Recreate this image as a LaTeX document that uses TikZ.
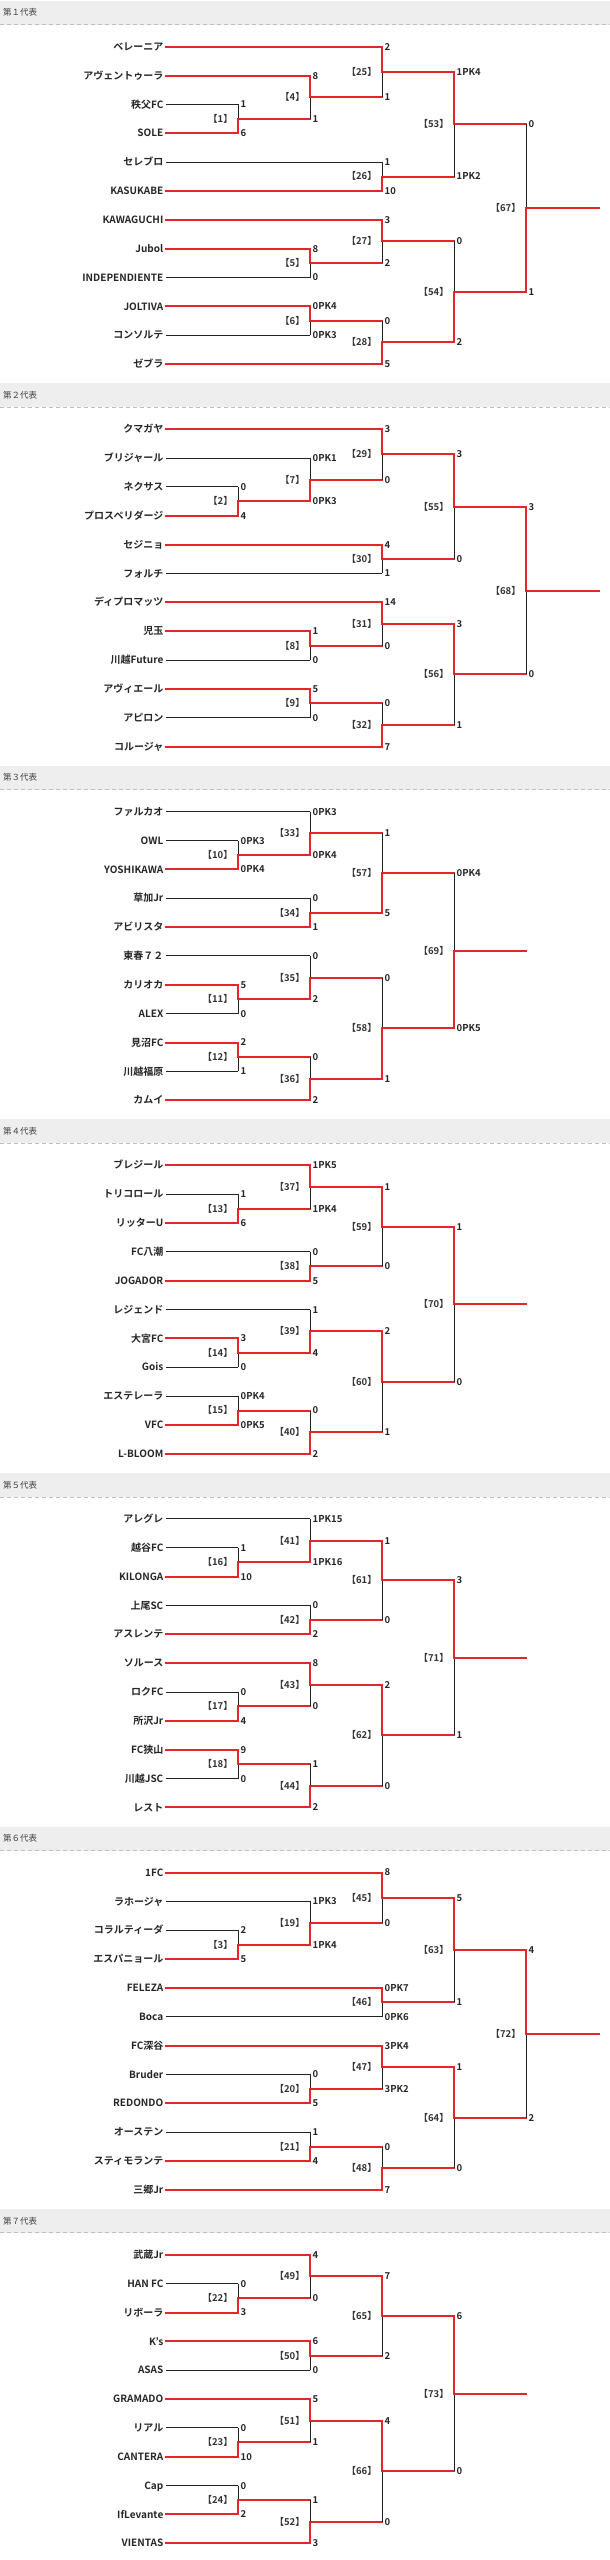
\documentclass[tikz,border=0pt]{standalone}
\usepackage{fontspec}
\setmainfont{Noto Sans CJK JP}[BoldFont={Noto Sans CJK JP Bold}]
\usetikzlibrary{calc}

\definecolor{winred}{HTML}{E4262B}
\definecolor{lossline}{HTML}{222222}
\definecolor{bandgray}{HTML}{EEEEEE}

\def\dY{28.85}
\def\xName{163.5}
\def\xLine{166}

\tikzset{
  won/.style={draw=winred, line width=2pt, line cap=rect},
  lost/.style={draw=lossline, line width=1pt},
  tw upper/.style={won}, tw lower/.style={lost},
  bw upper/.style={lost}, bw lower/.style={won},
  club/.style={anchor=east, inner sep=0pt, text=black!85,
    font=\bfseries\fontsize{10}{10}\selectfont, text height=7.3pt, text depth=0pt},
  score/.style={anchor=west, inner sep=0pt, xshift=2.5pt, text=black!85,
    font=\bfseries\fontsize{9.5}{9.5}\selectfont, text height=6.9pt, text depth=0pt},
  matchno/.style={anchor=east, inner sep=0pt, xshift=-5pt, text=black!80,
    font=\bfseries\fontsize{9.5}{9.5}\selectfont, text height=6.9pt, text depth=0pt},
  band/.style={fill=bandgray},
  bandline/.style={draw=black!25, line width=0.8pt, dash pattern=on 4pt off 3pt},
  heading/.style={anchor=west, inner sep=0pt, text=black!75,
    font=\fontsize{8.5}{8.5}\selectfont},
}

%% team: id, row, name
\newcommand{\club}[3]{%
  \node[club] (#1) at (\xName, #2*\dY) {#3};
  \coordinate (#1l) at (\xLine, #2*\dY);
}
%% game: no, round, upper, lower, upper score, lower score, winner, upper line, lower line
\newcommand{\game}[9]{%
  \coordinate (m#1u) at (#3 -| rd#2);
  \coordinate (m#1d) at (#4 -| rd#2);
  \coordinate (m#1) at ($(m#1u)!.5!(m#1d)$);
  \draw[#8] (#3) -- (m#1u);
  \draw[#9] (#4) -- (m#1d);
  \draw[#7 upper] (m#1u) -- (m#1);
  \draw[#7 lower] (m#1) -- (m#1d);
  \node[score] (m#1us) at (m#1u) {#5};
  \node[score] (m#1ds) at (m#1d) {#6};
  \node[matchno] (m#1n) at (m#1) {【#1】};
}
\newcommand{\final}[2]{%
  \coordinate (e#1) at (m#1 -| rd#2);
  \draw[won] (m#1) -- (e#1);
}
\newcommand{\block}[1]{%
  \fill[band] (0,-46) rectangle (610,-22);
  \draw[bandline] (0,-22) -- (610,-22);
  \node[heading] (h#1) at (3,-34) {第#1代表};
}

\begin{document}
\begin{tikzpicture}[x=1pt, y=-1pt]
  \useasboundingbox (0,0) rectangle (610,2560);

  %% rounds
  \coordinate (rd1) at (238, 0);
  \coordinate (rd2) at (310, 0);
  \coordinate (rd3) at (382, 0);
  \coordinate (rd4) at (454, 0);
  \coordinate (rd5) at (526, 0);
  \coordinate (rd6) at (599, 0);

  %% 1
  \begin{scope}[shift={(0,46.7)}]
    \block{１}
    \club{a0}{0}{ベレーニア}
    \club{a1}{1}{アヴェントゥーラ}
    \club{a2}{2}{秩父FC}
    \club{a3}{3}{SOLE}
    \club{a4}{4}{セレブロ}
    \club{a5}{5}{KASUKABE}
    \club{a6}{6}{KAWAGUCHI}
    \club{a7}{7}{Jubol}
    \club{a8}{8}{INDEPENDIENTE}
    \club{a9}{9}{JOLTIVA}
    \club{a10}{10}{コンソルテ}
    \club{a11}{11}{ゼブラ}
    \game{1}{1}{a2l}{a3l}{1}{6}{bw}{lost}{won}
    \game{4}{2}{a1l}{m1}{8}{1}{tw}{won}{won}
    \game{25}{3}{a0l}{m4}{2}{1}{tw}{won}{won}
    \game{26}{3}{a4l}{a5l}{1}{10}{bw}{lost}{won}
    \game{53}{4}{m25}{m26}{1PK4}{1PK2}{tw}{won}{won}
    \game{5}{2}{a7l}{a8l}{8}{0}{tw}{won}{lost}
    \game{27}{3}{a6l}{m5}{3}{2}{tw}{won}{won}
    \game{6}{2}{a9l}{a10l}{0PK4}{0PK3}{tw}{won}{lost}
    \game{28}{3}{m6}{a11l}{0}{5}{bw}{won}{won}
    \game{54}{4}{m27}{m28}{0}{2}{bw}{won}{won}
    \game{67}{5}{m53}{m54}{0}{1}{bw}{won}{won}
    \final{67}{6}
  \end{scope}

  %% 2
  \begin{scope}[shift={(0,429.2)}]
    \block{２}
    \club{b0}{0}{クマガヤ}
    \club{b1}{1}{ブリジャール}
    \club{b2}{2}{ネクサス}
    \club{b3}{3}{プロスペリダージ}
    \club{b4}{4}{セジニョ}
    \club{b5}{5}{フォルチ}
    \club{b6}{6}{ディプロマッツ}
    \club{b7}{7}{児玉}
    \club{b8}{8}{川越Future}
    \club{b9}{9}{アヴィエール}
    \club{b10}{10}{アピロン}
    \club{b11}{11}{コルージャ}
    \game{2}{1}{b2l}{b3l}{0}{4}{bw}{lost}{won}
    \game{7}{2}{b1l}{m2}{0PK1}{0PK3}{bw}{lost}{won}
    \game{29}{3}{b0l}{m7}{3}{0}{tw}{won}{won}
    \game{30}{3}{b4l}{b5l}{4}{1}{tw}{won}{lost}
    \game{55}{4}{m29}{m30}{3}{0}{tw}{won}{won}
    \game{8}{2}{b7l}{b8l}{1}{0}{tw}{won}{lost}
    \game{31}{3}{b6l}{m8}{14}{0}{tw}{won}{won}
    \game{9}{2}{b9l}{b10l}{5}{0}{tw}{won}{lost}
    \game{32}{3}{m9}{b11l}{0}{7}{bw}{won}{won}
    \game{56}{4}{m31}{m32}{3}{1}{tw}{won}{won}
    \game{68}{5}{m55}{m56}{3}{0}{tw}{won}{won}
    \final{68}{6}
  \end{scope}

  %% 3
  \begin{scope}[shift={(0,811.7)}]
    \block{３}
    \club{c0}{0}{ファルカオ}
    \club{c1}{1}{OWL}
    \club{c2}{2}{YOSHIKAWA}
    \club{c3}{3}{草加Jr}
    \club{c4}{4}{アビリスタ}
    \club{c5}{5}{東春７２}
    \club{c6}{6}{カリオカ}
    \club{c7}{7}{ALEX}
    \club{c8}{8}{見沼FC}
    \club{c9}{9}{川越福原}
    \club{c10}{10}{カムイ}
    \game{10}{1}{c1l}{c2l}{0PK3}{0PK4}{bw}{lost}{won}
    \game{33}{2}{c0l}{m10}{0PK3}{0PK4}{bw}{lost}{won}
    \game{34}{2}{c3l}{c4l}{0}{1}{bw}{lost}{won}
    \game{57}{3}{m33}{m34}{1}{5}{bw}{won}{won}
    \game{11}{1}{c6l}{c7l}{5}{0}{tw}{won}{lost}
    \game{35}{2}{c5l}{m11}{0}{2}{bw}{lost}{won}
    \game{12}{1}{c8l}{c9l}{2}{1}{tw}{won}{lost}
    \game{36}{2}{m12}{c10l}{0}{2}{bw}{won}{won}
    \game{58}{3}{m35}{m36}{0}{1}{bw}{won}{won}
    \game{69}{4}{m57}{m58}{0PK4}{0PK5}{bw}{won}{won}
    \final{69}{5}
  \end{scope}

  %% 4
  \begin{scope}[shift={(0,1165.3)}]
    \block{４}
    \club{d0}{0}{ブレジール}
    \club{d1}{1}{トリコロール}
    \club{d2}{2}{リッターU}
    \club{d3}{3}{FC八潮}
    \club{d4}{4}{JOGADOR}
    \club{d5}{5}{レジェンド}
    \club{d6}{6}{大宮FC}
    \club{d7}{7}{Gois}
    \club{d8}{8}{エステレーラ}
    \club{d9}{9}{VFC}
    \club{d10}{10}{L-BLOOM}
    \game{13}{1}{d1l}{d2l}{1}{6}{bw}{lost}{won}
    \game{37}{2}{d0l}{m13}{1PK5}{1PK4}{tw}{won}{won}
    \game{38}{2}{d3l}{d4l}{0}{5}{bw}{lost}{won}
    \game{59}{3}{m37}{m38}{1}{0}{tw}{won}{won}
    \game{14}{1}{d6l}{d7l}{3}{0}{tw}{won}{lost}
    \game{39}{2}{d5l}{m14}{1}{4}{bw}{lost}{won}
    \game{15}{1}{d8l}{d9l}{0PK4}{0PK5}{bw}{lost}{won}
    \game{40}{2}{m15}{d10l}{0}{2}{bw}{won}{won}
    \game{60}{3}{m39}{m40}{2}{1}{tw}{won}{won}
    \game{70}{4}{m59}{m60}{1}{0}{tw}{won}{won}
    \final{70}{5}
  \end{scope}

  %% 5
  \begin{scope}[shift={(0,1518.9)}]
    \block{５}
    \club{e0}{0}{アレグレ}
    \club{e1}{1}{越谷FC}
    \club{e2}{2}{KILONGA}
    \club{e3}{3}{上尾SC}
    \club{e4}{4}{アスレンテ}
    \club{e5}{5}{ソルース}
    \club{e6}{6}{ロクFC}
    \club{e7}{7}{所沢Jr}
    \club{e8}{8}{FC狭山}
    \club{e9}{9}{川越JSC}
    \club{e10}{10}{レスト}
    \game{16}{1}{e1l}{e2l}{1}{10}{bw}{lost}{won}
    \game{41}{2}{e0l}{m16}{1PK15}{1PK16}{bw}{lost}{won}
    \game{42}{2}{e3l}{e4l}{0}{2}{bw}{lost}{won}
    \game{61}{3}{m41}{m42}{1}{0}{tw}{won}{won}
    \game{17}{1}{e6l}{e7l}{0}{4}{bw}{lost}{won}
    \game{43}{2}{e5l}{m17}{8}{0}{tw}{won}{won}
    \game{18}{1}{e8l}{e9l}{9}{0}{tw}{won}{lost}
    \game{44}{2}{m18}{e10l}{1}{2}{bw}{won}{won}
    \game{62}{3}{m43}{m44}{2}{0}{tw}{won}{won}
    \game{71}{4}{m61}{m62}{3}{1}{tw}{won}{won}
    \final{71}{5}
  \end{scope}

  %% 6
  \begin{scope}[shift={(0,1872.5)}]
    \block{６}
    \club{f0}{0}{1FC}
    \club{f1}{1}{ラホージャ}
    \club{f2}{2}{コラルティーダ}
    \club{f3}{3}{エスパニョール}
    \club{f4}{4}{FELEZA}
    \club{f5}{5}{Boca}
    \club{f6}{6}{FC深谷}
    \club{f7}{7}{Bruder}
    \club{f8}{8}{REDONDO}
    \club{f9}{9}{オーステン}
    \club{f10}{10}{スティモランテ}
    \club{f11}{11}{三郷Jr}
    \game{3}{1}{f2l}{f3l}{2}{5}{bw}{lost}{won}
    \game{19}{2}{f1l}{m3}{1PK3}{1PK4}{bw}{lost}{won}
    \game{45}{3}{f0l}{m19}{8}{0}{tw}{won}{won}
    \game{46}{3}{f4l}{f5l}{0PK7}{0PK6}{tw}{won}{lost}
    \game{63}{4}{m45}{m46}{5}{1}{tw}{won}{won}
    \game{20}{2}{f7l}{f8l}{0}{5}{bw}{lost}{won}
    \game{47}{3}{f6l}{m20}{3PK4}{3PK2}{tw}{won}{won}
    \game{21}{2}{f9l}{f10l}{1}{4}{bw}{lost}{won}
    \game{48}{3}{m21}{f11l}{0}{7}{bw}{won}{won}
    \game{64}{4}{m47}{m48}{1}{0}{tw}{won}{won}
    \game{72}{5}{m63}{m64}{4}{2}{tw}{won}{won}
    \final{72}{6}
  \end{scope}

  %% 7
  \begin{scope}[shift={(0,2254.8)}]
    \block{７}
    \club{g0}{0}{武蔵Jr}
    \club{g1}{1}{HAN FC}
    \club{g2}{2}{リボーラ}
    \club{g3}{3}{K’s}
    \club{g4}{4}{ASAS}
    \club{g5}{5}{GRAMADO}
    \club{g6}{6}{リアル}
    \club{g7}{7}{CANTERA}
    \club{g8}{8}{Cap}
    \club{g9}{9}{IfLevante}
    \club{g10}{10}{VIENTAS}
    \game{22}{1}{g1l}{g2l}{0}{3}{bw}{lost}{won}
    \game{49}{2}{g0l}{m22}{4}{0}{tw}{won}{won}
    \game{50}{2}{g3l}{g4l}{6}{0}{tw}{won}{lost}
    \game{65}{3}{m49}{m50}{7}{2}{tw}{won}{won}
    \game{23}{1}{g6l}{g7l}{0}{10}{bw}{lost}{won}
    \game{51}{2}{g5l}{m23}{5}{1}{tw}{won}{won}
    \game{24}{1}{g8l}{g9l}{0}{2}{bw}{lost}{won}
    \game{52}{2}{m24}{g10l}{1}{3}{bw}{won}{won}
    \game{66}{3}{m51}{m52}{4}{0}{tw}{won}{won}
    \game{73}{4}{m65}{m66}{6}{0}{tw}{won}{won}
    \final{73}{5}
  \end{scope}

\end{tikzpicture}
\end{document}
